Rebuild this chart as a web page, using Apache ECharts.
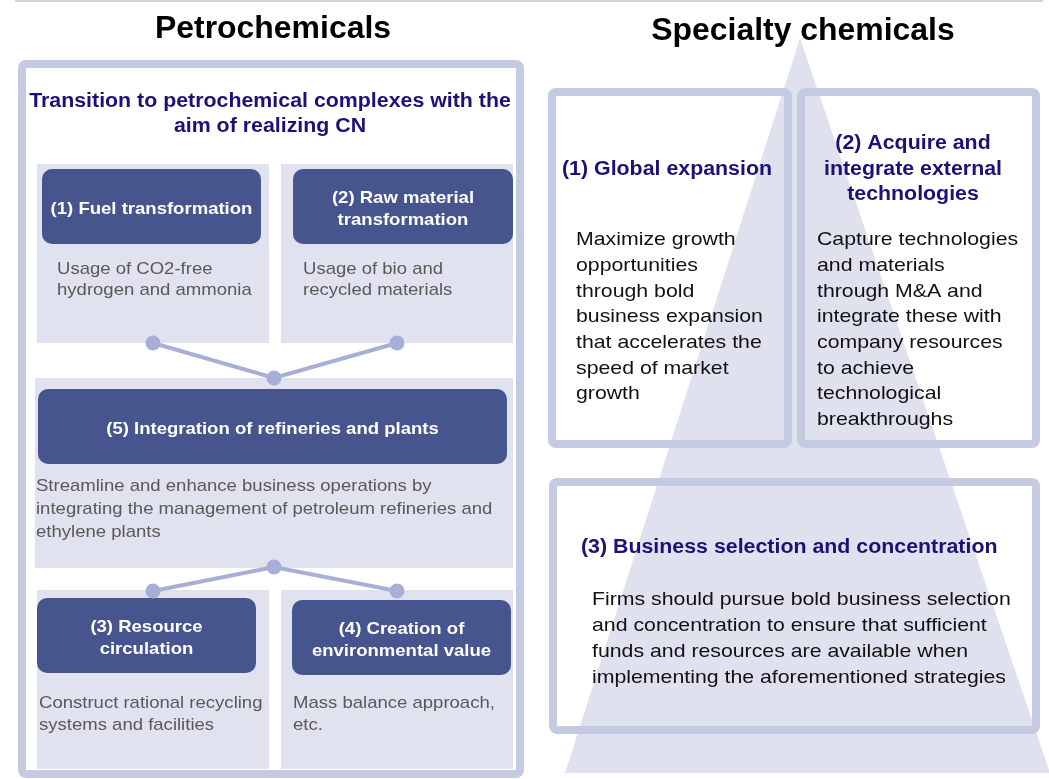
<!DOCTYPE html>
<html>
<head>
<meta charset="utf-8">
<script src="https://cdn.jsdelivr.net/npm/echarts@6/dist/echarts.min.js"></script>
<style>
html,body{margin:0;padding:0;background:#fff;}
#chart{width:1049px;height:779px;}
</style>
</head>
<body>
<div id="chart"></div>
<script>
// ---- content ----
var sectionTitles = ['Petrochemicals', 'Specialty chemicals'];
var petroHeading = ['Transition to petrochemical complexes with the', 'aim of realizing CN'];
var petroBoxTitles = [
  ['(1) Fuel transformation'],
  ['(2) Raw material', 'transformation'],
  ['(5) Integration of refineries and plants'],
  ['(3) Resource', 'circulation'],
  ['(4) Creation of', 'environmental value']
];
var petroDescriptions = [
  ['Usage of CO2-free', 'hydrogen and ammonia'],
  ['Usage of bio and', 'recycled materials'],
  ['Streamline and enhance business operations by', 'integrating the management of petroleum refineries and', 'ethylene plants'],
  ['Construct rational recycling', 'systems and facilities'],
  ['Mass balance approach,', 'etc.']
];
var specialtyTitles = [
  ['(1) Global expansion'],
  ['(2) Acquire and', 'integrate external', 'technologies'],
  ['(3) Business selection and concentration']
];
var specialtyBodies = [
  ['Maximize growth', 'opportunities', 'through bold', 'business expansion', 'that accelerates the', 'speed of market', 'growth'],
  ['Capture technologies', 'and materials', 'through M&A and', 'integrate these with', 'company resources', 'to achieve', 'technological', 'breakthroughs'],
  ['Firms should pursue bold business selection', 'and concentration to ensure that sufficient', 'funds and resources are available when', 'implementing the aforementioned strategies']
];

// ---- styles ----
var FONT = '"Liberation Sans", Arial, Helvetica, sans-serif';
var C = {
  frame: '#c5cae3', cell: '#e0e2ef', dark: '#47558f', conn: '#a8afd6',
  navy: '#1c1177', grey: '#595959', body: '#111111', tri: '#dfe1ef', rule: '#d4d4d4'
};
var TEXT_SHIFT = 2;

function txt(lines, x, yFirst, size, weight, color, align, lh, sx) {
  var y = yFirst - lh / 2 + TEXT_SHIFT;
  return {
    type: 'text', z: 20,
    scaleX: sx || 1, originX: x, originY: y,
    style: {
      text: lines.join('\n'),
      x: x, y: y,
      font: weight + ' ' + size + 'px ' + FONT,
      fill: color, textAlign: align, textVerticalAlign: 'top', lineHeight: lh
    }
  };
}
function rect(x, y, w, h, fill, r, z) {
  return { type: 'rect', z: z || 5, shape: { x: x, y: y, width: w, height: h, r: r || 0 }, style: { fill: fill } };
}
function frame(x, y, w, h, z) {
  return { type: 'rect', z: z || 10, shape: { x: x, y: y, width: w, height: h, r: 4 }, style: { fill: 'none', stroke: C.frame, lineWidth: 8 } };
}
function connector(pts) {
  var els = [{ type: 'polyline', z: 12, shape: { points: pts }, style: { stroke: C.conn, lineWidth: 4, fill: 'none' } }];
  pts.forEach(function (p) {
    els.push({ type: 'circle', z: 13, shape: { cx: p[0], cy: p[1], r: 7.5 }, style: { fill: C.conn } });
  });
  return els;
}

var g = [];
// top rule
g.push({ type: 'line', z: 1, shape: { x1: 15, y1: 1, x2: 1043, y2: 1 }, style: { stroke: C.rule, lineWidth: 2 } });
// section titles
g.push(txt([sectionTitles[0]], 273, 27, 31, 'bold', '#000', 'center', 34, 1.03));
g.push(txt([sectionTitles[1]], 803, 29, 31, 'bold', '#000', 'center', 34, 1.03));

// ---- left panel ----
g.push({ type: 'rect', z: 2, shape: { x: 22, y: 64, width: 498, height: 710, r: 4 }, style: { fill: '#fff', stroke: C.frame, lineWidth: 8 } });
g.push(txt(petroHeading, 270, 100, 19.5, 'bold', C.navy, 'center', 25, 1.095));

var cells = [[37, 164, 232, 179], [281, 164, 232, 179], [35, 378, 478, 190], [37, 590, 232, 179], [281, 590, 232, 179]];
var darks = [[42, 169, 219, 75], [293, 169, 220, 75], [38, 389, 469, 75], [37, 598, 219, 75], [292, 600, 219, 75]];
var descPos = [[57, 267, 21.5], [303, 267, 21.5], [36, 484, 23], [39, 701, 22], [293, 701, 22]];
cells.forEach(function (c) { g.push(rect(c[0], c[1], c[2], c[3], C.cell, 0, 4)); });
darks.forEach(function (d, i) {
  g.push(rect(d[0], d[1], d[2], d[3], C.dark, 10, 6));
  var t = petroBoxTitles[i];
  var lh = 22;
  var cy = d[1] + d[3] / 2 + 1;
  g.push(txt(t, d[0] + d[2] / 2, cy - (t.length - 1) * lh / 2, 17, 'bold', '#fff', 'center', lh, 1.09));
});
petroDescriptions.forEach(function (t, i) {
  var p = descPos[i];
  g.push(txt(t, p[0], p[1], 17, 'normal', C.grey, 'left', p[2], 1.09));
});
g = g.concat(connector([[153, 343], [274, 378], [397, 343]]));
g = g.concat(connector([[153, 591], [274, 567], [397, 591]]));

// ---- right panel ----
g.push({ type: 'polygon', z: 3, shape: { points: [[800, 38], [1050, 773], [565, 773]] }, style: { fill: C.tri } });
g.push(frame(552, 92, 236, 352));
g.push(frame(801, 92, 235, 352));
g.push(frame(553, 482, 483, 248));
g.push(txt(specialtyTitles[0], 667, 168, 19.5, 'bold', C.navy, 'center', 25.5, 1.095));
g.push(txt(specialtyTitles[1], 913, 142, 19.5, 'bold', C.navy, 'center', 25.5, 1.095));
g.push(txt(specialtyTitles[2], 581, 546, 19.5, 'bold', C.navy, 'left', 25.5, 1.095));
g.push(txt(specialtyBodies[0], 576, 238, 19, 'normal', C.body, 'left', 25.7, 1.12));
g.push(txt(specialtyBodies[1], 817, 238, 19, 'normal', C.body, 'left', 25.7, 1.12));
g.push(txt(specialtyBodies[2], 592, 598, 19, 'normal', C.body, 'left', 26, 1.12));

var chart = echarts.init(document.getElementById('chart'), null, { renderer: 'canvas' });
chart.setOption({ backgroundColor: '#fff', animation: false, graphic: { elements: g } });
</script>
</body>
</html>
